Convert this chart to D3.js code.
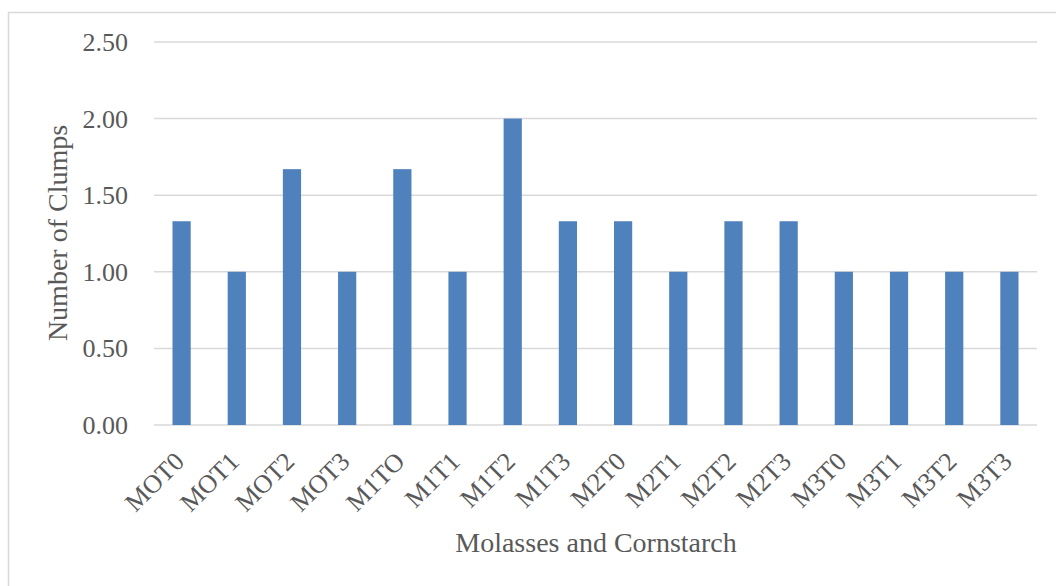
<!DOCTYPE html>
<html>
<head>
<meta charset="utf-8">
<script src="https://cdn.jsdelivr.net/npm/d3@7/dist/d3.min.js"></script>
<style>
  html, body { margin: 0; padding: 0; background: #fff; }
  svg text { font-family: "Liberation Serif", "Times New Roman", serif; fill: #595959; }
</style>
</head>
<body>
<svg id="chart" width="1056" height="586"></svg>
<script>
// Clump counts per molasses / cornstarch treatment
const categories = ["MOT0", "MOT1", "MOT2", "MOT3", "M1TO", "M1T1", "M1T2", "M1T3",
                    "M2T0", "M2T1", "M2T2", "M2T3", "M3T0", "M3T1", "M3T2", "M3T3"];
const clumps = [1.33, 1.00, 1.67, 1.00, 1.67, 1.00, 2.00, 1.33,
                1.33, 1.00, 1.33, 1.33, 1.00, 1.00, 1.00, 1.00];
const yTicks = [0, 0.5, 1.0, 1.5, 2.0, 2.5];

const svg = d3.select("#chart");
const margin = { left: 154, right: 1037, top: 42, bottom: 425 };

// Outer chart frame
svg.append("rect")
  .attr("x", 8.5).attr("y", 12.5)
  .attr("width", 1070).attr("height", 590)
  .attr("fill", "none").attr("stroke", "#d9d9d9").attr("stroke-width", 1.5);

const x = d3.scaleBand()
  .domain(categories)
  .range([margin.left, margin.right])
  .paddingInner(0.67).paddingOuter(0.335);

const y = d3.scaleLinear().domain([0, 2.5]).range([margin.bottom, margin.top]);

// Horizontal gridlines
svg.append("g").selectAll("line").data(yTicks).join("line")
  .attr("x1", margin.left).attr("x2", margin.right)
  .attr("y1", d => y(d)).attr("y2", d => y(d))
  .attr("stroke", "#d9d9d9").attr("stroke-width", 1.5);

// Y-axis labels
const yAxis = svg.append("g")
  .attr("transform", `translate(${margin.left},0)`)
  .call(d3.axisLeft(y).tickValues(yTicks).tickFormat(d3.format(".2f")).tickSize(0).tickPadding(26));
yAxis.select(".domain").remove();
yAxis.selectAll("text")
  .style("font-size", "26px")
  .attr("dy", "0.33em")
  .style("fill", "#595959")
  .style("font-family", "'Liberation Serif', serif");

// Bars
svg.append("g").selectAll("rect").data(categories).join("rect")
  .attr("x", d => x(d))
  .attr("width", x.bandwidth())
  .attr("y", (d, i) => y(clumps[i]))
  .attr("height", (d, i) => y(0) - y(clumps[i]))
  .attr("fill", "#4f81bd");

// X-axis category labels, rotated
const xAxis = svg.append("g")
  .attr("transform", `translate(0,${margin.bottom})`)
  .call(d3.axisBottom(x).tickSize(0).tickPadding(0));
xAxis.select(".domain").remove();
xAxis.selectAll("text")
  .style("font-size", "26px")
  .style("fill", "#595959")
  .style("font-family", "'Liberation Serif', serif")
  .attr("text-anchor", "end")
  .attr("dy", null)
  .attr("y", 0)
  .attr("transform", "translate(4,38) rotate(-45)");

// Axis titles
svg.append("text")
  .attr("x", 596).attr("y", 552)
  .attr("text-anchor", "middle")
  .style("font-size", "28px")
  .text("Molasses and Cornstarch");

svg.append("text")
  .attr("transform", "translate(67,233) rotate(-90)")
  .attr("text-anchor", "middle")
  .style("font-size", "28px")
  .text("Number of Clumps");
</script>
</body>
</html>
